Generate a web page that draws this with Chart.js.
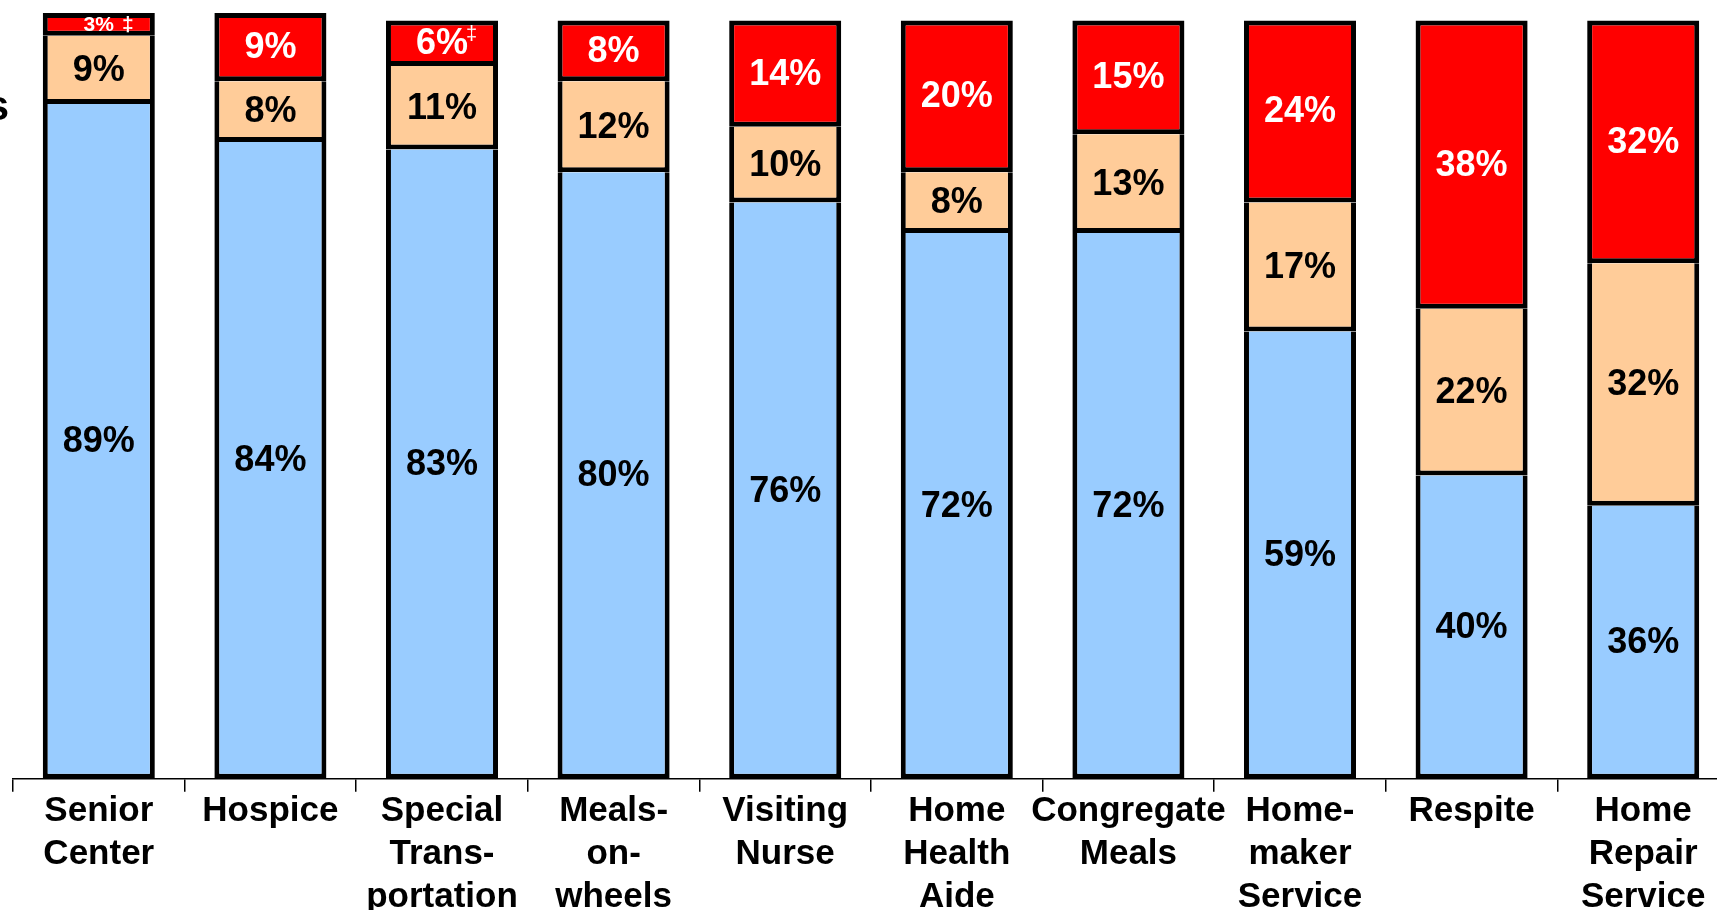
<!DOCTYPE html>
<html lang="en">
<head>
    <meta charset="UTF-8">
    <title>Service Use by Type</title>
    <script src="https://cdn.jsdelivr.net/npm/chart.js"></script>
    <style>
        html, body { margin: 0; padding: 0; background: #fff; overflow: hidden; }
        canvas { display: block; }
    </style>
</head>
<body>
    <canvas id="serviceChart" width="1740" height="917"></canvas>

    <script>
        // Categories (multi-line tick labels)
        const categories = [
            ['Senior', 'Center'],
            ['Hospice'],
            ['Special', 'Trans-', 'portation'],
            ['Meals-', 'on-', 'wheels'],
            ['Visiting', 'Nurse'],
            ['Home', 'Health', 'Aide'],
            ['Congregate', 'Meals'],
            ['Home-', 'maker', 'Service'],
            ['Respite'],
            ['Home', 'Repair', 'Service']
        ];

        // Series values (percent), bottom to top
        const blueValues  = [89, 84, 83, 80, 76, 72, 72, 59, 40, 36];
        const peachValues = [9, 8, 11, 12, 10, 8, 13, 17, 22, 32];
        const redValues   = [3, 9, 6, 8, 14, 20, 15, 24, 38, 32];

        // footnote markers shown next to the top-segment labels
        const redNotes = ['‡', '', '‡', '', '', '', '', '', '', ''];

        const FONT = "'Liberation Sans', Arial, sans-serif";

        // draws the percent labels centred in each segment
        const segmentLabels = {
            id: 'segmentLabels',
            afterDatasetsDraw(chart) {
                const ctx = chart.ctx;
                chart.data.datasets.forEach((ds, di) => {
                    const meta = chart.getDatasetMeta(di);
                    meta.data.forEach((bar, i) => {
                        const p = bar.getProps(['x', 'y', 'base'], true);
                        const h = Math.abs(p.base - p.y);
                        const cy = (p.y + p.base) / 2;
                        const small = h < 30;
                        const size = small ? 21 : 36;
                        const text = ds.data[i] + '%';
                        ctx.save();
                        ctx.fillStyle = ds.labelColor;
                        ctx.font = 'bold ' + size + 'px ' + FONT;
                        ctx.textAlign = 'center';
                        ctx.textBaseline = 'middle';
                        ctx.fillText(text, p.x, cy + 1);
                        const note = ds.notes ? ds.notes[i] : '';
                        if (note) {
                            const w = ctx.measureText(text).width;
                            ctx.textAlign = 'left';
                            if (small) {
                                ctx.fillText(note, p.x + w / 2 + 8, cy + 1);
                            } else {
                                ctx.font = '20px ' + FONT;
                                ctx.fillText(note, p.x + w / 2 - 2, cy - 9);
                            }
                        }
                        ctx.restore();
                    });
                });
            },
            afterDraw(chart) {
                // tail of the cropped left-hand label
                const ctx = chart.ctx;
                ctx.save();
                ctx.fillStyle = '#000';
                ctx.font = 'bold 42px ' + FONT;
                ctx.textAlign = 'right';
                ctx.textBaseline = 'alphabetic';
                ctx.fillText('s', 9, 120);
                ctx.restore();
            }
        };

        const barStyle = {
            borderColor: '#000',
            borderWidth: 5,
            barPercentage: 0.653,
            categoryPercentage: 1.0
        };

        const ctx = document.getElementById('serviceChart').getContext('2d');

        new Chart(ctx, {
            type: 'bar',
            data: {
                labels: categories,
                datasets: [
                    Object.assign({
                        label: 'Blue',
                        data: blueValues,
                        backgroundColor: '#99CCFF',
                        borderSkipped: 'top',
                        labelColor: '#000'
                    }, barStyle),
                    Object.assign({
                        label: 'Peach',
                        data: peachValues,
                        backgroundColor: '#FFCC99',
                        borderSkipped: 'top',
                        labelColor: '#000'
                    }, barStyle),
                    Object.assign({
                        label: 'Red',
                        data: redValues,
                        backgroundColor: '#FF0000',
                        borderSkipped: false,
                        labelColor: '#fff',
                        notes: redNotes
                    }, barStyle)
                ]
            },
            options: {
                responsive: false,
                animation: false,
                devicePixelRatio: 1,
                layout: {
                    padding: { left: 13, right: 11, top: 13, bottom: 0 }
                },
                plugins: {
                    legend: { display: false },
                    tooltip: { enabled: false }
                },
                scales: {
                    x: {
                        stacked: true,
                        grid: {
                            display: true,
                            offset: true,
                            drawOnChartArea: false,
                            drawTicks: true,
                            tickLength: 13,
                            color: '#000',
                            lineWidth: 1.5
                        },
                        border: { display: true, color: '#000', width: 1.5 },
                        ticks: {
                            autoSkip: false,
                            maxRotation: 0,
                            minRotation: 0,
                            padding: -2,
                            color: '#000',
                            font: { family: FONT, size: 35, weight: 'bold', lineHeight: 1.23 }
                        }
                    },
                    y: {
                        stacked: true,
                        display: false,
                        min: 0,
                        max: 101
                    }
                }
            },
            plugins: [segmentLabels]
        });
    </script>
</body>
</html>
